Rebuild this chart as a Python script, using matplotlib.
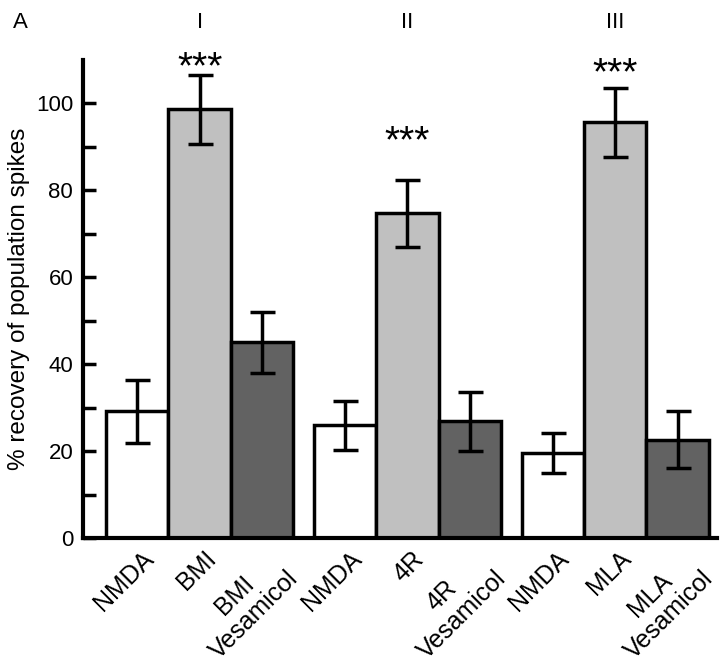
import numpy as np
import matplotlib.pyplot as plt
import matplotlib.transforms as mtransforms

plt.rcParams['font.family'] = ['Liberation Sans', 'DejaVu Sans']

# data
labels = ['NMDA', 'BMI', 'BMI\nVesamicol',
          'NMDA', '4R', '4R\nVesamicol',
          'NMDA', 'MLA', 'MLA\nVesamicol']
means = [29.1, 98.6, 45.0, 25.9, 74.7, 26.8, 19.5, 95.6, 22.6]
errs = [7.3, 8.0, 7.0, 5.7, 7.7, 6.7, 4.6, 8.0, 6.5]
colors = ['white', '#c0c0c0', '#626262'] * 3
groups = ['I', 'II', 'III']
stars_y = [105.7, 88.8, 104.4]

fig = plt.figure(figsize=(7.24, 6.65), dpi=100)
ax = fig.add_axes([0.1146, 0.191, 0.8755, 0.719])

x = np.array([g * 3.33 + j for g in range(3) for j in range(3)])
ax.bar(x, means, width=1.0, color=colors, edgecolor='black', linewidth=2.5,
       yerr=errs, error_kw=dict(ecolor='black', elinewidth=2.5, capsize=9, capthick=2.5),
       zorder=2)

ax.set_xlim(-0.87, 9.29)
ax.set_ylim(0, 110)
ax.set_yticks([0, 20, 40, 60, 80, 100])
ax.set_yticks(np.arange(10, 110, 20), minor=True)
ax.tick_params(axis='y', which='both', direction='in', length=9, width=2.5,
               labelsize=16, pad=7)
ax.tick_params(axis='x', length=0, labelsize=18, pad=2)
ax.set_xticks(x)
ax.set_xticklabels(labels, rotation=45, ha='right', va='top',
                   rotation_mode='anchor', multialignment='center')
offset = mtransforms.ScaledTranslation(4 / 100, -6 / 100, fig.dpi_scale_trans)
for lab in ax.get_xticklabels():
    lab.set_transform(lab.get_transform() + offset)

for s in ['top', 'right']:
    ax.spines[s].set_visible(False)
for s in ['left', 'bottom']:
    ax.spines[s].set_linewidth(3)

ax.set_ylabel('% recovery of population spikes', fontsize=17.5, labelpad=4)

for g in range(3):
    cx = x[g * 3 + 1]
    ax.text(cx, stars_y[g], '***', ha='center', va='baseline', fontsize=28,
            clip_on=False)
    fig.text(ax.transData.transform((cx, 0))[0] / 724, 1 - 22 / 665, groups[g],
             ha='center', va='center', fontsize=16)
fig.text(20 / 724, 1 - 22 / 665, 'A', ha='center', va='center', fontsize=16)

fig.savefig('out.png', dpi=100)
